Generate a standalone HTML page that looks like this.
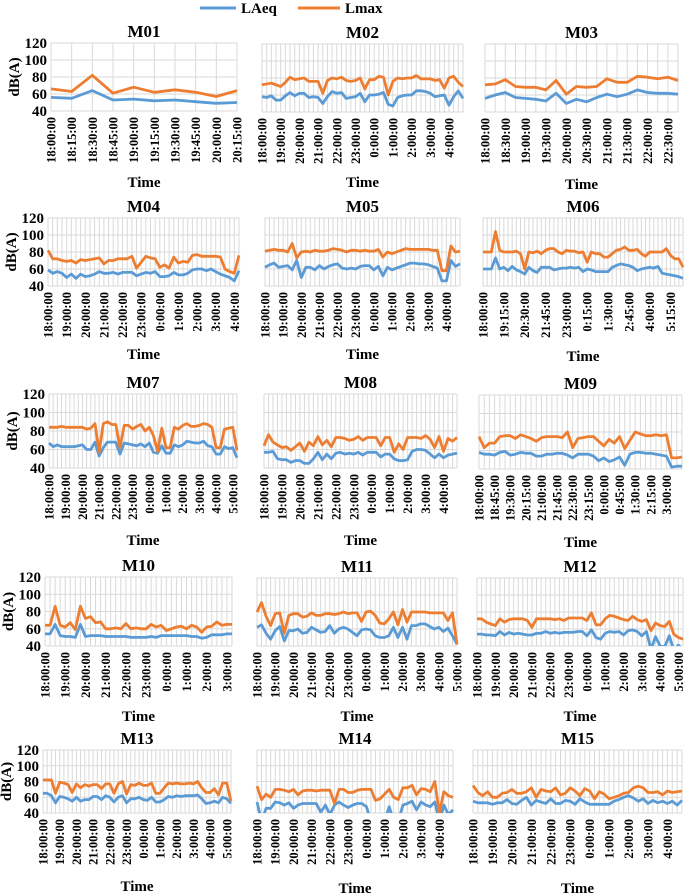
<!DOCTYPE html>
<html><head><meta charset="utf-8">
<style>
html,body{margin:0;padding:0;background:#fff;}
svg{display:block;font-family:"Liberation Serif",serif;}
</style></head>
<body>
<svg id="chart" width="685" height="895" viewBox="0 0 685 895" xmlns="http://www.w3.org/2000/svg">
<g>
<line x1="200" y1="8" x2="236" y2="8" stroke="#5b9bd5" stroke-width="3"/>
<text x="241" y="13" font-size="15" font-weight="bold">LAeq</text>
<line x1="298" y1="8" x2="340" y2="8" stroke="#ed7d31" stroke-width="3"/>
<text x="345" y="13" font-size="15" font-weight="bold">Lmax</text>
</g>
</svg>
<script>
const yTicks = [40,60,80,100,120];
const hourLabels11 = ["18:00:00","19:00:00","20:00:00","21:00:00","22:00:00","23:00:00","0:00:00","1:00:00","2:00:00","3:00:00","4:00:00"];
const hourLabels12 = hourLabels11.concat(["5:00:00"]);

const m01Labels = ["18:00:00","18:15:00","18:30:00","18:45:00","19:00:00","19:15:00","19:30:00","19:45:00","20:00:00","20:15:00"];
const m01LAeq = [56,55,64,53,54,52,53,51,49,50];
const m01Lmax = [66,63,82,61,68,62,65,62,57,64];

const m02LAeq = [58,57,59,54,54,59,63,59,62,62,57,58,57,50,58,64,62,63,56,57,58,62,52,60,60,61,63,49,47,57,59,60,60,65,65,64,62,58,59,60,48,58,65,56];
const m02Lmax = [72,73,74,72,70,75,81,78,79,80,76,76,76,62,77,80,79,81,77,76,77,80,67,78,78,82,81,60,76,80,79,80,80,83,79,79,79,77,78,68,80,82,75,70];

const m03Labels = ["18:00:00","18:30:00","19:00:00","19:30:00","20:00:00","20:30:00","21:00:00","21:30:00","22:00:00","22:30:00"];
const m03LAeq = [56,60,63,57,56,55,53,62,50,55,52,57,61,58,61,66,63,62,62,61];
const m03Lmax = [72,73,78,70,69,69,66,77,61,70,69,70,79,75,75,82,81,79,81,77];

const m04LAeq = [59,55,57,55,50,54,49,54,51,52,54,57,55,55,56,54,56,56,56,52,54,56,55,57,51,51,52,56,53,53,55,59,60,60,58,60,57,54,52,50,46,58];
const m04Lmax = [82,72,72,70,69,70,67,71,70,71,72,73,66,70,70,72,72,72,75,61,68,75,73,72,62,65,61,74,67,69,68,76,77,75,75,75,75,74,60,57,55,76];

const m05LAeq = [62,65,67,62,63,64,59,70,50,62,62,59,64,60,63,65,66,61,60,61,60,63,64,64,59,63,52,62,59,61,63,65,67,67,66,66,65,63,61,46,46,70,63,66];
const m05Lmax = [81,82,83,82,82,80,90,73,80,81,80,82,81,81,82,84,83,82,80,82,82,81,82,81,81,83,74,80,78,80,82,84,83,83,83,83,83,82,82,58,58,87,80,81];

const m06Labels = ["18:00:00","19:15:00","20:30:00","21:45:00","23:00:00","0:15:00","1:30:00","2:45:00","4:00:00","5:15:00"];
const m06LAeq = [60,60,60,73,60,62,58,63,59,57,54,62,58,56,62,62,62,59,60,61,61,62,61,62,57,60,59,57,57,57,57,62,64,66,65,64,62,58,60,61,62,61,63,55,54,53,52,51,49];
const m06Lmax = [80,80,80,104,82,80,80,80,81,78,60,80,79,81,78,82,84,84,80,78,82,81,81,79,80,68,80,78,78,74,74,78,82,83,86,82,82,83,78,75,80,80,80,80,84,76,72,72,62];

const m07LAeq = [67,63,65,63,63,63,63,64,65,60,60,68,53,62,68,68,68,55,67,66,65,64,66,63,67,57,56,64,56,56,65,63,65,69,68,67,67,69,64,63,55,55,63,61,62,51];
const m07Lmax = [84,84,84,85,84,84,84,84,84,82,83,88,57,88,90,87,87,62,86,86,82,85,87,80,84,75,58,83,62,62,84,82,86,88,85,85,86,88,87,84,62,62,82,83,84,59];

const m08LAeq = [57,57,58,50,49,49,46,48,48,45,45,50,57,49,55,50,56,57,55,56,55,57,54,57,57,57,52,55,55,50,48,48,49,58,60,60,59,55,51,55,51,54,55,56];
const m08Lmax = [64,76,68,65,62,63,59,63,67,58,68,64,74,65,70,63,73,73,72,70,71,74,70,73,73,73,64,73,73,57,66,60,73,73,73,72,75,71,62,74,58,72,69,73];

const m09Labels = ["18:00:00","18:45:00","19:30:00","20:15:00","21:00:00","21:45:00","22:30:00","23:15:00","0:00:00","0:45:00","1:30:00","2:15:00","3:00:00"];
const m09LAeq = [58,56,56,55,58,59,55,56,58,57,57,54,54,56,56,57,57,55,52,56,56,56,54,49,52,48,50,53,44,56,58,58,57,57,56,55,54,42,43,43];
const m09Lmax = [75,63,68,68,75,76,76,73,77,75,73,70,74,75,75,75,74,80,63,73,74,75,75,70,65,72,68,75,62,71,80,78,76,76,77,76,77,52,52,53];

const m10Labels = ["18:00:00","19:00:00","20:00:00","21:00:00","22:00:00","23:00:00","0:00:00","1:00:00","2:00:00","3:00:00"];
const m10LAeq = [54,54,65,52,51,51,50,65,51,52,52,52,51,51,51,51,51,50,50,50,50,51,50,52,52,52,52,52,52,51,51,49,50,53,53,53,54,54];
const m10Lmax = [64,64,86,64,62,67,59,86,72,74,67,68,60,60,61,60,66,60,61,60,60,65,62,64,58,60,62,63,60,64,62,56,62,63,68,64,65,65];

const m11LAeq = [62,65,55,48,58,63,46,58,58,60,55,56,62,59,56,57,64,55,60,62,60,56,52,59,60,59,52,50,50,52,62,50,62,48,64,64,66,66,63,60,62,57,61,52,42];
const m11Lmax = [80,91,75,64,78,79,55,76,78,78,74,75,79,76,76,78,78,77,78,80,78,79,79,69,80,81,76,67,66,72,80,65,83,68,80,80,80,80,79,79,79,79,70,79,42];

const m12LAeq = [54,54,53,53,52,57,53,56,54,55,54,53,53,55,55,57,55,56,55,56,56,56,57,57,52,59,50,48,55,57,56,57,53,58,59,57,52,57,36,51,40,39,52,35,41,36];
const m12Lmax = [72,72,68,66,64,72,68,71,72,72,72,70,62,72,72,72,72,71,72,70,73,73,73,73,70,79,65,65,72,76,75,73,71,70,75,71,69,71,58,67,64,63,69,54,50,48];

const m13LAeq = [65,65,62,53,61,60,58,55,60,55,57,57,61,61,57,62,60,54,60,62,53,58,58,60,57,56,60,54,54,57,61,60,62,61,62,62,62,63,58,52,53,55,53,60,58,52];
const m13Lmax = [82,82,82,65,79,78,76,66,77,72,76,74,76,76,71,77,77,65,77,80,64,76,75,78,75,75,78,65,65,72,78,77,78,77,77,78,77,80,72,66,66,71,63,78,78,55];

const m14LAeq = [54,30,46,46,54,53,50,53,46,50,52,52,52,52,41,50,38,50,54,50,47,50,52,52,48,30,30,30,30,48,30,30,50,52,55,44,54,50,48,54,30,50,38,44];
const m14Lmax = [74,57,64,60,70,70,69,67,70,63,68,69,69,68,69,69,69,52,70,70,66,66,69,70,70,70,56,58,64,70,60,57,72,72,75,63,71,70,67,80,40,67,62,60];

const m15LAeq = [55,53,53,53,51,53,53,57,52,51,56,60,50,56,54,52,58,52,52,56,55,51,58,54,51,51,51,51,51,55,57,60,62,59,55,58,52,56,53,55,52,55,50,56];
const m15Lmax = [75,66,62,67,60,60,65,66,70,65,65,67,72,60,70,68,67,72,63,65,72,68,62,71,68,58,67,64,58,60,62,65,66,72,74,72,66,66,67,63,68,66,67,68];

const panels = [
 {t:"M01",x0:51,x1:237,y0:43,y1:111,ty:182,yaxis:true,labels:m01Labels,step:1,a:m01LAeq,m:m01Lmax},
 {t:"M02",x0:262,x1:463,y0:44,y1:112,ty:182,labels:hourLabels11,step:4,a:m02LAeq,m:m02Lmax},
 {t:"M03",x0:485,x1:678,y0:44,y1:112,ty:184,labels:m03Labels,step:2,a:m03LAeq,m:m03Lmax},
 {t:"M04",x0:48,x1:239,y0:218,y1:286,ty:354,yaxis:true,labels:hourLabels11,step:4,a:m04LAeq,m:m04Lmax},
 {t:"M05",x0:265,x1:460,y0:218,y1:286,ty:354,labels:hourLabels11,step:4,a:m05LAeq,m:m05Lmax},
 {t:"M06",x0:483,x1:683,y0:218,y1:286,ty:356,labels:m06Labels,step:5,a:m06LAeq,m:m06Lmax},
 {t:"M07",x0:49,x1:237,y0:394,y1:468,ty:540,yaxis:true,labels:hourLabels12,step:4,a:m07LAeq,m:m07Lmax},
 {t:"M08",x0:264,x1:457,y0:394,y1:468,ty:540,labels:hourLabels11,step:4,a:m08LAeq,m:m08Lmax},
 {t:"M09",x0:479,x1:682,y0:395,y1:469,ty:542,labels:m09Labels,step:3,a:m09LAeq,m:m09Lmax},
 {t:"M10",x0:45,x1:232,y0:577,y1:646,ty:716,yaxis:true,labels:m10Labels,step:4,a:m10LAeq,m:m10Lmax},
 {t:"M11",x0:257,x1:457,y0:578,y1:646,ty:716,labels:hourLabels12,step:4,a:m11LAeq,m:m11Lmax},
 {t:"M12",x0:477,x1:683,y0:578,y1:646,ty:716,labels:hourLabels12,step:4,a:m12LAeq,m:m12Lmax},
 {t:"M13",x0:43,x1:231,y0:750,y1:813,ty:886,yaxis:true,labels:hourLabels12,step:4,a:m13LAeq,m:m13Lmax},
 {t:"M14",x0:257,x1:453,y0:750,y1:813,ty:888,labels:hourLabels11,step:4,a:m14LAeq,m:m14Lmax},
 {t:"M15",x0:473,x1:682,y0:750,y1:813,ty:888,labels:hourLabels11,step:4,a:m15LAeq,m:m15Lmax}
];

const NS = "http://www.w3.org/2000/svg";
const svg = document.getElementById("chart");
function mk(tag, attrs, parent){
  const e = document.createElementNS(NS, tag);
  for (const k in attrs) e.setAttribute(k, attrs[k]);
  parent.appendChild(e);
  return e;
}
panels.forEach((p, pi) => {
  const id = p.t.toLowerCase();
  const g = mk("g", {}, svg);
  
  
  const n = p.a.length;
  const xs = i => p.x0 + i * (p.x1 - p.x0) / (n - 1);
  const ys = v => p.y1 - (v - 40) / 80 * (p.y1 - p.y0);
  const cp = mk("clipPath", {id: "clip" + pi}, g);
  mk("rect", {x: p.x0 - 2, y: p.y0 - 2, width: p.x1 - p.x0 + 4, height: p.y1 - p.y0 + 2}, cp);
  const grid = mk("g", {stroke: "#d9d9d9", "stroke-width": "1"}, g);
  
  
  for (let i = 0; i < n; i++) mk("line", {x1: xs(i), x2: xs(i), y1: p.y0, y2: p.y1}, grid);
  yTicks.forEach(v => mk("line", {x1: p.x0, x2: p.x1, y1: ys(v), y2: ys(v)}, grid));
  const tt = mk("text", {x: (p.x0 + p.x1) / 2, y: p.y0 - 6, "text-anchor": "middle", "font-size": "17", "font-weight": "bold"}, g);
  tt.textContent = p.t;
  
  
  if (p.yaxis) {
    yTicks.forEach(v => {
      const yt = mk("text", {x: p.x0 - 4, y: ys(v) + 5, "text-anchor": "end", "font-size": "15", "font-weight": "bold"}, g);
      yt.textContent = v;
      
      
    });
    const ya = mk("text", {transform: `translate(${p.x0 - 32},${(p.y0 + p.y1) / 2}) rotate(-90)`, "text-anchor": "middle", "font-size": "15", "font-weight": "bold"}, g);
    ya.textContent = "dB(A)";
    
    
  }
  p.labels.forEach((lab, k) => {
    const i = k * p.step;
    const xl = mk("text", {transform: `translate(${xs(i) + 4.5},${p.y1 + 6}) rotate(-90)`, "text-anchor": "end", "font-size": "12.5", "font-weight": "bold"}, g);
    xl.textContent = lab;
    
    
  });
  const xt = mk("text", {x: (p.x0 + p.x1) / 2, y: p.ty + 5, "text-anchor": "middle", "font-size": "15", "font-weight": "bold"}, g);
  xt.textContent = "Time";
  
  
  const series = [[p.a, "#5b9bd5", "laeq"], [p.m, "#ed7d31", "lmax"]];
  series.forEach(([arr, col, nm]) => {
    const pts = arr.map((v, i) => xs(i).toFixed(1) + "," + ys(v).toFixed(1)).join(" ");
    const pl = mk("polyline", {points: pts, fill: "none", stroke: col, "stroke-width": "2.8", "stroke-linejoin": "round", "clip-path": `url(#clip${pi})`}, g);
    
    
  });
});
</script>
</body></html>
